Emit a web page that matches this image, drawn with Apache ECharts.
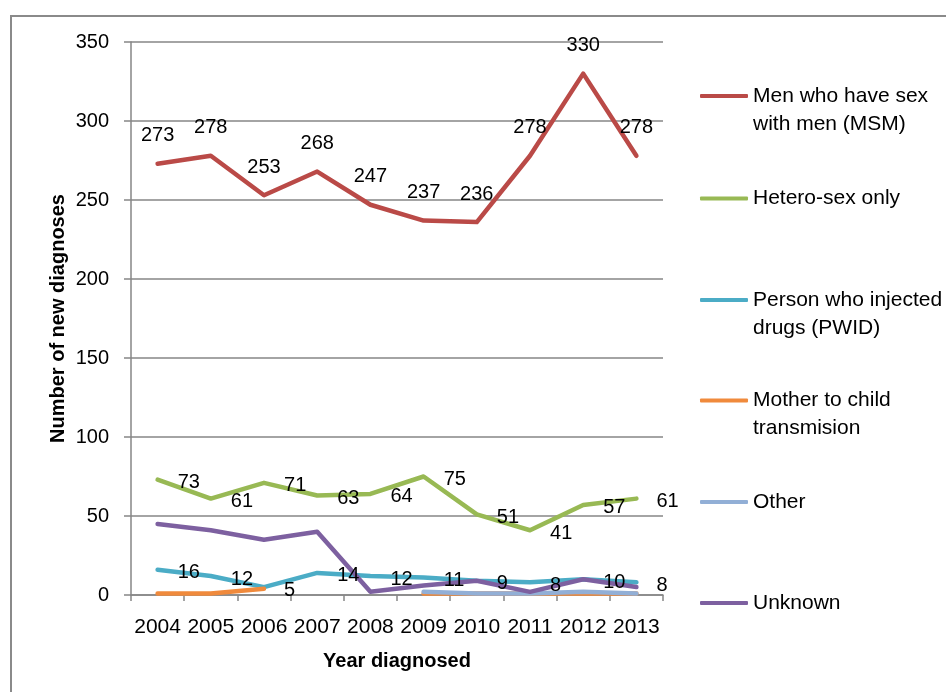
<!DOCTYPE html>
<html>
<head>
<meta charset="utf-8">
<script src="https://cdn.jsdelivr.net/npm/echarts@6/dist/echarts.min.js"></script>
<style>
  html, body { margin: 0; padding: 0; background: #fff; }
  #chart { width: 946px; height: 692px; }
</style>
</head>
<body>
<div id="chart"></div>
<script>
// New HIV diagnoses by exposure category, 2004–2013
const years = ['2004', '2005', '2006', '2007', '2008', '2009', '2010', '2011', '2012', '2013'];
const yTicks = [0, 50, 100, 150, 200, 250, 300, 350];

const msm     = [273, 278, 253, 268, 247, 237, 236, 278, 330, 278];
const hetero  = [73, 61, 71, 63, 64, 75, 51, 41, 57, 61];
const pwid    = [16, 12, 5, 14, 12, 11, 9, 8, 10, 8];
const mother  = [1, 1, 4, null, null, 1, 1, 1, 1, 1];
const other   = [null, null, null, null, null, 2, 1, 1, 2, 1];
const unknown = [45, 41, 35, 40, 2, 6, 9, 2, 10, 5];

const names = {
  msm: 'Men who have sex\nwith men (MSM)',
  hetero: 'Hetero-sex only',
  pwid: 'Person who injected\ndrugs (PWID)',
  mother: 'Mother to child\ntransmision',
  other: 'Other',
  unknown: 'Unknown'
};

const FONT = "'Liberation Sans', Arial, sans-serif";
const GRAY = '#868686';

function line(name, data, color, label) {
  const s = {
    name: name,
    type: 'line',
    data: data,
    symbol: 'circle',
    symbolSize: 0.1,
    showSymbol: true,
    connectNulls: false,
    lineStyle: { color: color, width: 4.5, cap: 'round', join: 'round' },
    itemStyle: { color: color },
    emphasis: { disabled: true },
    animation: false
  };
  if (label) {
    s.label = Object.assign({
      show: true,
      color: '#000',
      fontFamily: FONT,
      fontSize: 20
    }, label);
  }
  return s;
}

// Two-line entries get a blank leading line so the first line sits level with the key line
function legendAt(name, top, twoLines) {
  return {
    data: [name],
    left: 700,
    top: top,
    orient: 'vertical',
    padding: 0,
    icon: 'roundRect',
    itemWidth: 48,
    itemHeight: 4,
    selectedMode: false,
    formatter: twoLines ? function (n) { return ' \n' + n; } : undefined,
    textStyle: {
      color: '#000',
      fontFamily: FONT,
      fontSize: 21,
      lineHeight: 28
    }
  };
}

const chart = echarts.init(document.getElementById('chart'), null, { renderer: 'canvas' });

chart.setOption({
  backgroundColor: '#fff',
  animation: false,
  grid: { left: 131, right: 283, top: 42, bottom: 97 },
  graphic: [{
    type: 'rect',
    shape: { x: 11, y: 16, width: 1200, height: 1000 },
    style: { fill: 'none', stroke: '#8a8a8a', lineWidth: 2 },
    silent: true
  }],
  legend: [
    legendAt(names.msm, 54, true),
    legendAt(names.hetero, 184.5, false),
    legendAt(names.pwid, 258, true),
    legendAt(names.mother, 358.5, true),
    legendAt(names.other, 488, false),
    legendAt(names.unknown, 589, false)
  ],
  xAxis: {
    type: 'category',
    data: years,
    boundaryGap: true,
    name: 'Year diagnosed',
    nameLocation: 'middle',
    nameGap: 56,
    nameTextStyle: { color: '#000', fontFamily: FONT, fontSize: 20, fontWeight: 'bold' },
    axisLine: { show: true, lineStyle: { color: GRAY, width: 1.5 } },
    axisTick: { show: true, length: 6, interval: 0, lineStyle: { color: GRAY, width: 1.5 } },
    axisLabel: { color: '#000', fontFamily: FONT, fontSize: 21, margin: 22, interval: 0 },
    splitLine: { show: false }
  },
  yAxis: {
    type: 'value',
    min: yTicks[0],
    max: yTicks[yTicks.length - 1],
    interval: 50,
    name: 'Number of new diagnoses',
    nameLocation: 'middle',
    nameGap: 63,
    nameMoveOverlap: false,
    nameRotate: 90,
    nameTextStyle: { color: '#000', fontFamily: FONT, fontSize: 20, fontWeight: 'bold' },
    axisLine: { show: true, lineStyle: { color: GRAY, width: 1.5 } },
    axisTick: { show: true, length: 7, lineStyle: { color: GRAY, width: 1.5 } },
    axisLabel: { color: '#000', fontFamily: FONT, fontSize: 20, margin: 22 },
    splitLine: { show: true, lineStyle: { color: GRAY, width: 1.5 } }
  },
  series: [
    line(names.msm, msm, '#BA4A47', { position: 'top', distance: 18 }),
    line(names.hetero, hetero, '#98B954', { position: 'right', distance: 20, offset: [0, 3] }),
    line(names.pwid, pwid, '#4BACC6', { position: 'right', distance: 20, offset: [0, 3] }),
    line(names.mother, mother, '#F08A3C'),
    line(names.other, other, '#92AFD6'),
    line(names.unknown, unknown, '#7D60A0')
  ]
});
</script>
</body>
</html>
